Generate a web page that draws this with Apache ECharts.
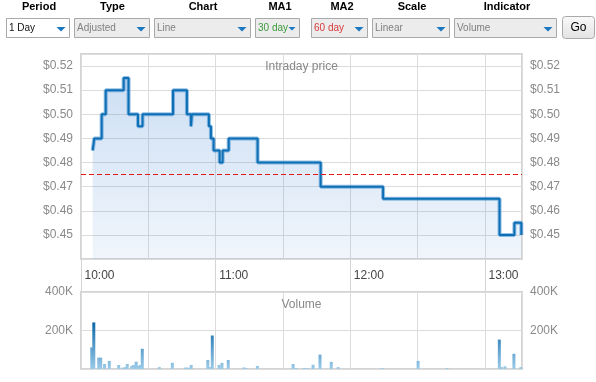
<!DOCTYPE html>
<html><head><meta charset="utf-8">
<script src="https://cdn.jsdelivr.net/npm/echarts@6/dist/echarts.min.js"></script>
<style>html,body{margin:0;padding:0;background:#fff}#c{width:596px;height:382px}</style>
</head><body><div id="c"></div>
<script>
// ---- data (time = minutes after 10:00) ----
const priceTimes = [5.2, 5.9, 9.2, 11.0, 19.0, 21.2, 25.4, 27.4, 41.0, 47.2, 49.0, 49.4, 57.0, 57.9, 59.1, 61.8, 63.1, 65.8, 78.7, 106.8, 134.6, 186.5, 193.1, 196.2];
const prices     = [0.485, 0.49, 0.50, 0.51, 0.515, 0.50, 0.495, 0.50, 0.51, 0.50, 0.495, 0.50, 0.495, 0.49, 0.485, 0.48, 0.485, 0.49, 0.48, 0.47, 0.465, 0.45, 0.455, 0.45];
const volTimes = [4.8, 5.7, 7.9, 8.8, 10.5, 12.6, 16.8, 18.6, 19.7, 20.6, 22.6, 23.5, 24.6, 25.5, 26.4, 27.3, 34.9, 40.7, 46.7, 47.8, 49.1, 56.5, 57.4, 58.5, 61.5, 62.8, 65.6, 72.6, 73.5, 78.6, 94.5, 95.8, 99.5, 101.1, 103.4, 106.5, 111.5, 114.6, 134.2, 150.2, 163.1, 186.4, 187.3, 188.9, 192.9, 196.0];
const volumes  = [112000, 242000, 59000, 59000, 26000, 42000, 21000, 7000, 10000, 26000, 16000, 21000, 38000, 16000, 21000, 105000, 10000, 32000, 8000, 7000, 21000, 47000, 10000, 174000, 21000, 32000, 47000, 8000, 5000, 16000, 26000, 5000, 5000, 5000, 22000, 75000, 37000, 10000, 5000, 42000, 5000, 153000, 10000, 14000, 79000, 10000];
const refPrice = 0.475;
const priceTicks = [0.45, 0.46, 0.47, 0.48, 0.49, 0.50, 0.51, 0.52];
const volTicks = [200000, 400000];
const timeTicks = [0, 60, 120, 180];
const controlLabels = ['Period', 'Type', 'Chart', 'MA1', 'MA2', 'Scale', 'Indicator'];
const controlValues = ['1 Day', 'Adjusted', 'Line', '30 day', '60 day', 'Linear', 'Volume'];
const buttonLabel = 'Go';
const priceTitle = 'Intraday price';
const volumeTitle = 'Volume';

// ---- layout / style ----
const FONT = "'Liberation Sans', Arial, sans-serif";
const TMAX = 196.5;
const boxes = [[6, 63], [74, 75], [154, 96], [255, 44], [311, 56], [372, 77], [454, 102]];
const arrowW = [9, 9, 9, 7, 9, 9, 9];
const labelX = [39, 112.5, 203, 280, 342, 412, 507];
const valueColors = ['#111', '#808080', '#808080', '#3a9a3a', '#d83a3a', '#808080', '#808080'];
const boxFill = ['#ffffff', '#ececec', '#ececec', '#ececec', '#ececec', '#ececec', '#ececec'];

const graphics = [];
controlLabels.forEach((t, i) => {
  graphics.push({type: 'text', x: labelX[i], y: 7, style: {text: t, font: 'bold 11px ' + FONT, fill: '#000', textAlign: 'center', textVerticalAlign: 'middle'}});
  const [bx, bw] = boxes[i];
  graphics.push({type: 'rect', shape: {x: bx + 0.5, y: 18.5, width: bw, height: 19}, style: {fill: boxFill[i], stroke: '#a9a9a9', lineWidth: 1}});
  graphics.push({type: 'text', x: bx + 3, y: 28, style: {text: controlValues[i], font: '10px ' + FONT, fill: valueColors[i], textAlign: 'left', textVerticalAlign: 'middle'}});
  const aw = arrowW[i], ax = bx + bw - 3.5 - aw, ah = aw * 0.5;
  graphics.push({type: 'polygon', shape: {points: [[ax, 27], [ax + aw, 27], [ax + aw / 2, 27 + ah]]}, style: {fill: '#1a78c0'}});
});
graphics.push({type: 'rect', shape: {x: 562.5, y: 16.5, width: 32, height: 22, r: 3}, style: {fill: new echarts.graphic.LinearGradient(0, 0, 0, 1, [{offset: 0, color: '#fafafa'}, {offset: 1, color: '#e2e2e2'}]), stroke: '#a9a9a9', lineWidth: 1}});
graphics.push({type: 'text', x: 578.5, y: 28, style: {text: buttonLabel, font: '12px ' + FONT, fill: '#000', textAlign: 'center', textVerticalAlign: 'middle'}});
graphics.push({type: 'text', x: 301.5, y: 67, z: 10, style: {text: priceTitle, font: '12px ' + FONT, fill: '#888', textAlign: 'center', textVerticalAlign: 'middle'}});
graphics.push({type: 'text', x: 301.5, y: 305, z: 10, style: {text: volumeTitle, font: '12px ' + FONT, fill: '#888', textAlign: 'center', textVerticalAlign: 'middle'}});

const pricePairs = priceTimes.map((t, i) => [t, prices[i]]);
const volPairs = volTimes.map((t, i) => [t, volumes[i]]);
const hhmm = v => { const h = 10 + Math.floor(v / 60), m = Math.round(v % 60); return h + ':' + (m < 10 ? '0' : '') + m; };
const gridLine = {show: true, lineStyle: {color: '#dcdcdc', width: 1}};
const yLabel = {color: '#8a8a8a', fontSize: 12, fontFamily: FONT, margin: 8};

const chart = echarts.init(document.getElementById('c'), null, {renderer: 'canvas'});
chart.setOption({
  animation: false,
  graphic: graphics,
  grid: [
    {left: 81, right: 74, top: 54, bottom: 123, show: true, backgroundColor: '#fff', borderColor: '#d4d4d4', borderWidth: 2},
    {left: 81, right: 74, top: 292, bottom: 13, show: true, backgroundColor: '#fff', borderColor: '#d4d4d4', borderWidth: 2}
  ],
  xAxis: [
    {gridIndex: 0, type: 'value', min: 0, max: TMAX, interval: 30, splitLine: gridLine, axisLine: {show: false}, axisTick: {show: false}, axisLabel: {show: false}},
    {gridIndex: 0, type: 'value', min: 0, max: TMAX, position: 'bottom', splitLine: {show: false}, axisLine: {show: false},
     axisTick: {show: true, length: 33, customValues: timeTicks, lineStyle: {color: '#d4d4d4'}},
     axisLabel: {show: true, customValues: timeTicks, formatter: hhmm, align: 'left', padding: [0, 0, 0, 3.5], margin: 11, color: '#444', fontSize: 12, fontFamily: FONT}},
    {gridIndex: 1, type: 'value', min: 0, max: TMAX, interval: 30, splitLine: gridLine, axisLine: {show: false}, axisTick: {show: false}, axisLabel: {show: false}}
  ],
  yAxis: [
    {gridIndex: 0, type: 'value', min: 0.44, max: 0.525, interval: 0.01, position: 'left', splitLine: gridLine, axisLine: {show: false}, axisTick: {show: false},
     axisLabel: Object.assign({customValues: priceTicks, formatter: v => '$' + v.toFixed(2)}, yLabel)},
    {gridIndex: 0, type: 'value', min: 0.44, max: 0.525, interval: 0.01, position: 'right', splitLine: {show: false}, axisLine: {show: false}, axisTick: {show: false},
     axisLabel: Object.assign({customValues: priceTicks, formatter: v => '$' + v.toFixed(2)}, yLabel)},
    {gridIndex: 1, type: 'value', min: 0, max: 400000, interval: 200000, position: 'left', splitLine: gridLine, axisLine: {show: false}, axisTick: {show: false},
     axisLabel: Object.assign({customValues: volTicks, formatter: v => (v / 1000) + 'K'}, yLabel)},
    {gridIndex: 1, type: 'value', min: 0, max: 400000, interval: 200000, position: 'right', splitLine: {show: false}, axisLine: {show: false}, axisTick: {show: false},
     axisLabel: Object.assign({customValues: volTicks, formatter: v => (v / 1000) + 'K'}, yLabel)}
  ],
  series: [
    {type: 'line', xAxisIndex: 0, yAxisIndex: 0, data: pricePairs, step: 'end', symbol: 'none', silent: true,
     lineStyle: {width: 4, color: 'rgba(40,130,205,0.5)'},
     areaStyle: {color: new echarts.graphic.LinearGradient(0, 0, 0, 1, [{offset: 0, color: 'rgba(60,130,210,0.36)'}, {offset: 1, color: 'rgba(60,130,210,0.11)'}])},
     markLine: {silent: true, symbol: 'none', precision: 4, label: {show: false}, lineStyle: {color: '#e8161b', type: [5, 3], width: 1}, data: [{yAxis: refPrice}]}},
    {type: 'line', xAxisIndex: 0, yAxisIndex: 0, data: pricePairs, step: 'end', symbol: 'none', silent: true,
     lineStyle: {width: 2, color: '#0e6fb4'}},
    {type: 'bar', xAxisIndex: 2, yAxisIndex: 2, data: volPairs, barWidth: 3, silent: true,
     itemStyle: {color: {type: 'linear', x: 0, y: 322, x2: 0, y2: 369, global: true, colorStops: [{offset: 0, color: '#0a66a8'}, {offset: 1, color: '#9ccbe9'}]}}}
  ]
});
</script></body></html>
